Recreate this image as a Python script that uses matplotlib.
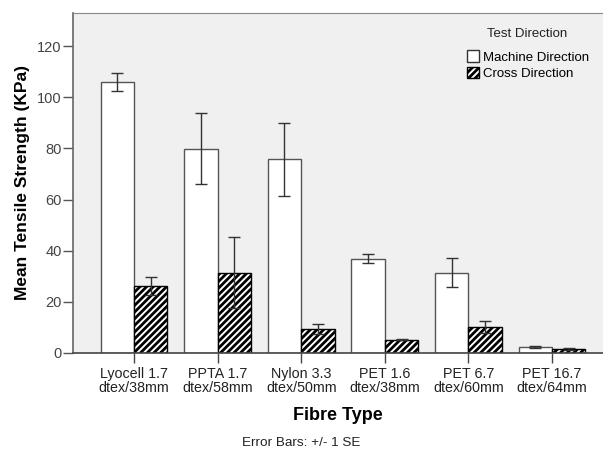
import numpy as np
import matplotlib
matplotlib.use('Agg')
import matplotlib.pyplot as plt
from matplotlib.patches import Patch

plt.rcParams['font.family'] = ['Liberation Sans', 'DejaVu Sans']
plt.rcParams['hatch.linewidth'] = 2.0

# data
fibres = ['Lyocell 1.7\ndtex/38mm', 'PPTA 1.7\ndtex/58mm', 'Nylon 3.3\ndtex/50mm',
          'PET 1.6\ndtex/38mm', 'PET 6.7\ndtex/60mm', 'PET 16.7\ndtex/64mm']
machine_mean = [106.0, 79.9, 75.8, 36.9, 31.4, 2.2]
machine_se = [3.4, 14.0, 14.3, 1.8, 5.8, 0.4]
cross_mean = [26.1, 31.4, 9.4, 5.2, 10.2, 1.4]
cross_se = [3.6, 13.8, 2.0, 0.3, 2.3, 0.4]

fig = plt.figure(figsize=(6.03, 4.5), dpi=100)
ax = fig.add_axes([0.121, 0.216, 0.879, 0.755])
ax.set_facecolor('#f0f0f0')

x = np.arange(len(fibres))
w = 0.4
ax.bar(x - w / 2, machine_mean, w, color='white', edgecolor='#555555', linewidth=1)
ax.bar(x + w / 2, cross_mean, w, color='white', edgecolor='black', hatch='/////', linewidth=1)
ax.errorbar(x - w / 2, machine_mean, yerr=machine_se, fmt='none', ecolor='#333333',
            elinewidth=1, capsize=4, capthick=1)
ax.errorbar(x + w / 2, cross_mean, yerr=cross_se, fmt='none', ecolor='#333333',
            elinewidth=1, capsize=4, capthick=1)

ax.set_xlim(-0.73, 5.61)
ax.set_ylim(0, 133)
ax.set_yticks([0, 20, 40, 60, 80, 100, 120])
ax.set_xticks(x)
ax.set_xticklabels(fibres, fontsize=10.3, color='#333333', linespacing=1.0)
ax.tick_params(axis='y', labelsize=10.5, colors='#555555', length=7, width=1, pad=1,
               labelcolor='#444444')
ax.tick_params(axis='x', length=7, width=1, pad=3, colors='#444444', labelcolor='#222222')

ax.spines['right'].set_visible(False)
ax.spines['top'].set_color('#888888')
ax.spines['left'].set_color('#666666')
ax.spines['bottom'].set_color('#444444')
ax.spines['left'].set_linewidth(1.2)
ax.spines['bottom'].set_linewidth(1.2)

ax.set_ylabel('Mean Tensile Strength (KPa)', fontsize=12.5, fontweight='bold', labelpad=5)
ax.set_xlabel('Fibre Type', fontsize=13, fontweight='bold', labelpad=9)
fig.text(0.5, 0.016, 'Error Bars: +/- 1 SE', ha='center', va='center', fontsize=9.7,
         color='#222222')

# legend title placed separately to get the SPSS-like gap
ax.text(0.857, 0.938, 'Test Direction', transform=ax.transAxes, ha='center',
        va='center', fontsize=9.5, color='#222222')
handles = [Patch(facecolor='white', edgecolor='#333333', label='Machine Direction'),
           Patch(facecolor='white', edgecolor='black', hatch='/////', label='Cross Direction')]
ax.legend(handles=handles, loc='upper left', bbox_to_anchor=(0.743, 0.89),
          frameon=False, fontsize=9.5, handlelength=0.95, handleheight=0.95,
          handletextpad=0.25, labelspacing=0.25, borderpad=0, borderaxespad=0)

fig.savefig('out.png', dpi=100)
